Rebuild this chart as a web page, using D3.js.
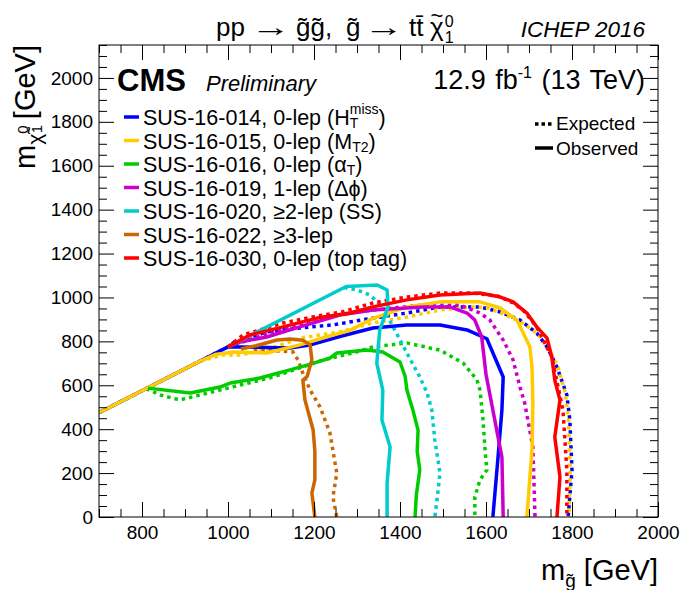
<!DOCTYPE html>
<meta charset="utf-8">
<head>
<script src="https://d3js.org/d3.v7.min.js"></script>
<style>
body { margin: 0; background: #fff; }
svg text { font-family: "Liberation Sans", Arial, Helvetica, sans-serif; fill: #000; }
.axis .domain { display: none; }
.axis line { stroke: #000; }
</style>
</head>
<body>
<script>
// frame of the plot, in pixels
margin = ({top: 45, right: 25, bottom: 73, left: 99})
width = 683
height = 590

// axis ranges and tick values
xDomain = [700, 2000]
yDomain = [0, 2150]
xMajor = [800, 1000, 1200, 1400, 1600, 1800, 2000]
yMajor = [0, 200, 400, 600, 800, 1000, 1200, 1400, 1600, 1800, 2000]

// contours, [m_gluino, m_lsp] in GeV
obs014 = [[700,475],[1000,775],[1065,773],[1144,770],[1190,783],[1260,822],[1337,861],[1416,875],[1493,875],[1556,852],[1602,812],[1640,638],[1637,487],[1628,273],[1616,0]]
exp014 = [[700,475],[1000,775],[1012,793],[1090,843],[1167,861],[1244,875],[1337,906],[1416,929],[1493,957],[1586,957],[1633,934],[1679,897],[1718,838],[1742,775],[1765,683],[1788,556],[1795,442],[1800,214],[1791,0]]

obs015 = [[700,475],[935,710],[970,740],[1012,752],[1090,747],[1167,784],[1244,829],[1284,850],[1337,905],[1416,957],[1493,980],[1586,980],[1633,952],[1672,897],[1702,775],[1707,683],[1709,519],[1707,305],[1695,0]]
exp015 = [[935,710],[988,738],[1028,738],[1090,761],[1167,815],[1260,843],[1337,884],[1416,911],[1493,943],[1570,957],[1600,955],[1640,925],[1680,890],[1720,835],[1745,770],[1768,680],[1785,560],[1792,440],[1796,214],[1793,0]]

obs016 = [[814,587],[912,565],[981,592],[1005,610],[1074,633],[1144,670],[1184,692],[1237,724],[1253,747],[1323,761],[1360,752],[1400,706],[1412,640],[1416,578],[1430,487],[1442,396],[1440,300],[1446,214],[1438,100],[1435,0]]
exp016 = [[810,585],[842,556],[888,533],[935,556],[1028,601],[1105,638],[1221,715],[1300,752],[1337,775],[1416,793],[1493,760],[1547,701],[1579,624],[1586,578],[1593,442],[1598,300],[1602,214],[1586,169],[1574,91],[1574,0]]

obs019 = [[1000,775],[1028,797],[1090,820],[1167,866],[1260,920],[1337,943],[1453,957],[1516,957],[1556,929],[1574,897],[1590,820],[1600,650],[1616,487],[1637,273],[1640,0]]
exp019 = [[1000,775],[1100,840],[1200,900],[1300,935],[1450,965],[1540,965],[1586,929],[1609,897],[1640,806],[1663,715],[1679,592],[1690,519],[1709,319],[1714,0]]

obs020 = [[1000,775],[1275,1050],[1347,1057],[1370,1034],[1372,957],[1353,852],[1346,701],[1360,578],[1358,442],[1377,319],[1370,155],[1370,0]]
exp020 = [[1270,1045],[1300,1034],[1330,1011],[1360,957],[1384,866],[1416,747],[1446,638],[1463,565],[1474,487],[1481,351],[1493,200],[1486,77],[1481,0]]

obs022 = [[1030,765],[1065,780],[1114,806],[1144,811],[1174,805],[1191,784],[1195,715],[1184,640],[1174,624],[1179,533],[1198,396],[1202,300],[1202,169],[1195,109],[1202,0]]
exp022 = [[1060,760],[1100,758],[1151,752],[1163,715],[1175,650],[1191,578],[1214,501],[1237,383],[1253,200],[1244,91],[1253,0]]

obs030 = [[1000,775],[1051,829],[1128,866],[1207,906],[1284,929],[1337,957],[1416,989],[1493,1011],[1586,1020],[1633,1002],[1663,980],[1695,929],[1718,866],[1742,815],[1753,729],[1760,624],[1772,533],[1760,364],[1772,182],[1765,0]]
exp030 = [[1000,775],[1035,829],[1128,884],[1207,915],[1267,935],[1337,975],[1416,1002],[1493,1020],[1570,1020],[1630,1005],[1663,975],[1686,943],[1718,866],[1753,729],[1779,487],[1788,214],[1788,0]]

analyses = [
  {key: "014", color: "#0000ff", obs: obs014, exp: exp014, label: [{s: "SUS-16-014, 0-lep (H"}, {sub: "T", sup: "miss"}, {s: ")"}]},
  {key: "015", color: "#ffcc00", obs: obs015, exp: exp015, label: [{s: "SUS-16-015, 0-lep (M"}, {sub: "T2"}, {s: ")"}]},
  {key: "016", color: "#00cc00", obs: obs016, exp: exp016, label: [{s: "SUS-16-016, 0-lep (\u03b1"}, {sub: "T"}, {s: ")"}]},
  {key: "019", color: "#cc00cc", obs: obs019, exp: exp019, label: [{s: "SUS-16-019, 1-lep (\u0394\u03d5)"}]},
  {key: "020", color: "#00cccc", obs: obs020, exp: exp020, label: [{s: "SUS-16-020, \u22652-lep (SS)"}]},
  {key: "022", color: "#cc6600", obs: obs022, exp: exp022, label: [{s: "SUS-16-022, \u22653-lep"}]},
  {key: "030", color: "#ff0000", obs: obs030, exp: exp030, label: [{s: "SUS-16-030, 0-lep (top tag)"}]}
]

x = d3.scaleLinear().domain(xDomain).range([margin.left, width - margin.right])
y = d3.scaleLinear().domain(yDomain).range([height - margin.bottom, margin.top])

var svg = d3.select("body").append("svg")
  .attr("width", width)
  .attr("height", height)
  .attr("viewBox", [0, 0, width, height])

// clip the contours to the frame
svg.append("clipPath").attr("id", "frame")
  .append("rect")
  .attr("x", margin.left).attr("y", margin.top)
  .attr("width", width - margin.left - margin.right)
  .attr("height", height - margin.top - margin.bottom)

var line = d3.line().x(d => x(d[0])).y(d => y(d[1]))

var curves = svg.append("g").attr("clip-path", "url(#frame)").attr("fill", "none")
analyses.forEach(a => {
  curves.append("path")
    .attr("d", line(a.exp))
    .attr("stroke", a.color)
    .attr("stroke-width", 3.5)
    .attr("stroke-dasharray", "3.5,4")
})
analyses.forEach(a => {
  curves.append("path")
    .attr("d", line(a.obs))
    .attr("stroke", a.color)
    .attr("stroke-width", 3.5)
    .attr("stroke-linejoin", "round")
})

// axes, ticks point inward like ROOT
var xMinor = d3.range(700, 2001, 50).filter(v => !xMajor.includes(v))
var yMinor = d3.range(0, 2151, 50).filter(v => !yMajor.includes(v))

svg.append("g").attr("class", "axis")
  .attr("transform", `translate(0,${height - margin.bottom})`)
  .call(d3.axisBottom(x).tickValues(xMajor).tickSize(-15).tickPadding(9).tickFormat(d3.format("d")))
  .call(g => g.selectAll("text").attr("font-size", 19))
svg.append("g").attr("class", "axis")
  .attr("transform", `translate(0,${height - margin.bottom})`)
  .call(d3.axisBottom(x).tickValues(xMinor).tickSize(-8).tickFormat(""))
svg.append("g").attr("class", "axis")
  .attr("transform", `translate(0,${margin.top})`)
  .call(d3.axisTop(x).tickValues(xMajor).tickSize(-15).tickFormat(""))
svg.append("g").attr("class", "axis")
  .attr("transform", `translate(0,${margin.top})`)
  .call(d3.axisTop(x).tickValues(xMinor).tickSize(-8).tickFormat(""))

svg.append("g").attr("class", "axis")
  .attr("transform", `translate(${margin.left},0)`)
  .call(d3.axisLeft(y).tickValues(yMajor).tickSize(-15).tickPadding(6).tickFormat(d3.format("d")))
  .call(g => g.selectAll("text").attr("font-size", 19))
svg.append("g").attr("class", "axis")
  .attr("transform", `translate(${margin.left},0)`)
  .call(d3.axisLeft(y).tickValues(yMinor).tickSize(-8).tickFormat(""))
svg.append("g").attr("class", "axis")
  .attr("transform", `translate(${width - margin.right},0)`)
  .call(d3.axisRight(y).tickValues(yMajor).tickSize(-15).tickFormat(""))
svg.append("g").attr("class", "axis")
  .attr("transform", `translate(${width - margin.right},0)`)
  .call(d3.axisRight(y).tickValues(yMinor).tickSize(-8).tickFormat(""))

svg.append("rect")
  .attr("x", margin.left).attr("y", margin.top)
  .attr("width", width - margin.left - margin.right)
  .attr("height", height - margin.top - margin.bottom)
  .attr("fill", "none").attr("stroke", "#000").attr("stroke-width", 1)

// places text pieces one after another, returns the end x
function put(g, cx, yy, size, s) {
  var t = g.append("text").attr("x", cx).attr("y", yy).attr("font-size", size).text(s)
  return cx + t.node().getComputedTextLength()
}

// title: pieces laid out like ROOT's TLatex, long arrows stretched sideways
function arrow(g, x0, len, yy) {
  var a = g.append("g")
  var t = a.append("text").attr("font-size", 26).text("\u2192")
  var w = t.node().getComputedTextLength()
  a.attr("transform", `translate(${x0},${yy}) scale(${len / w},1)`)
}
var tg = svg.append("g")
put(tg, 216, 36, 26, "pp")
arrow(tg, 251, 40, 36)
put(tg, 296, 36, 26, "g\u0303g\u0303,")
put(tg, 346, 36, 26, "g\u0303")
arrow(tg, 364, 40, 36)
put(tg, 409, 36, 26, "tt\u0304")
var chiEnd = put(tg, 430, 36, 26, "\u03c7")
tg.append("text").attr("x", (430 + chiEnd) / 2).attr("y", 23).attr("font-size", 22)
  .attr("text-anchor", "middle").text("~")
put(tg, chiEnd + 1, 27, 16, "0")
put(tg, chiEnd + 1, 43, 16, "1")

svg.append("text").attr("x", 645).attr("y", 37).attr("text-anchor", "end")
  .attr("font-size", 22.5).attr("font-style", "italic").text("ICHEP 2016")

// axis titles
var xt = svg.append("text").attr("x", width - margin.right).attr("y", 580)
  .attr("text-anchor", "end").attr("font-size", 29)
xt.append("tspan").text("m")
xt.append("tspan").attr("font-size", 19).attr("dy", 7).text("g\u0303")
xt.append("tspan").attr("dy", -7).text(" [GeV]")

var yt = svg.append("g").attr("transform", `translate(35,${margin.top}) rotate(-90)`)
var ytext = yt.append("text").attr("text-anchor", "end").attr("font-size", 29)
ytext.append("tspan").text("m")
ytext.append("tspan").attr("font-size", 21).attr("dy", 7).text("\u03c7\u0303")
ytext.append("tspan").attr("font-size", 15).attr("dy", -14).text("0")
ytext.append("tspan").attr("font-size", 15).attr("dx", -8).attr("dy", 14).text("1")
ytext.append("tspan").attr("font-size", 21).attr("dy", 0).text(" ")
ytext.append("tspan").attr("dy", -7).text("[GeV]")

// CMS labels
svg.append("text").attr("x", 117).attr("y", 91).attr("font-size", 31)
  .attr("font-weight", "bold").text("CMS")
svg.append("text").attr("x", 206).attr("y", 91).attr("font-size", 22)
  .attr("font-style", "italic").text("Preliminary")
var lumi = svg.append("text").attr("x", 645).attr("y", 89).attr("text-anchor", "end")
  .attr("font-size", 27).attr("word-spacing", 2)
lumi.append("tspan").text("12.9 fb")
lumi.append("tspan").attr("font-size", 16).attr("dy", -11).text("-1")
lumi.append("tspan").attr("dy", 11).text(" (13 TeV)")

// legend of analyses
var legY = d3.range(analyses.length).map(i => 117 + i * 23.5)
analyses.forEach((a, i) => {
  var g = svg.append("g").attr("transform", `translate(0,${legY[i]})`)
  g.append("line").attr("x1", 124).attr("x2", 139).attr("y1", 0).attr("y2", 0)
    .attr("stroke", a.color).attr("stroke-width", 3.5)
  var cx = 143
  a.label.forEach(p => {
    if (p.s) {
      cx = put(g, cx, 8, 21.5, p.s)
    } else {
      var w = 0
      if (p.sub) w = Math.max(w, put(g, cx, 11, 14, p.sub) - cx)
      if (p.sup) w = Math.max(w, put(g, cx, -3, 14, p.sup) - cx)
      cx += w
    }
  })
})

// expected / observed key
var key = svg.append("g")
key.append("line").attr("x1", 535).attr("x2", 553).attr("y1", 124).attr("y2", 124)
  .attr("stroke", "#000").attr("stroke-width", 3.5).attr("stroke-dasharray", "3.5,3")
key.append("text").attr("x", 556).attr("y", 130).attr("font-size", 19).text("Expected")
key.append("line").attr("x1", 535).attr("x2", 553).attr("y1", 148).attr("y2", 148)
  .attr("stroke", "#000").attr("stroke-width", 3.5)
key.append("text").attr("x", 556).attr("y", 155).attr("font-size", 19).text("Observed")
</script>
</body>
